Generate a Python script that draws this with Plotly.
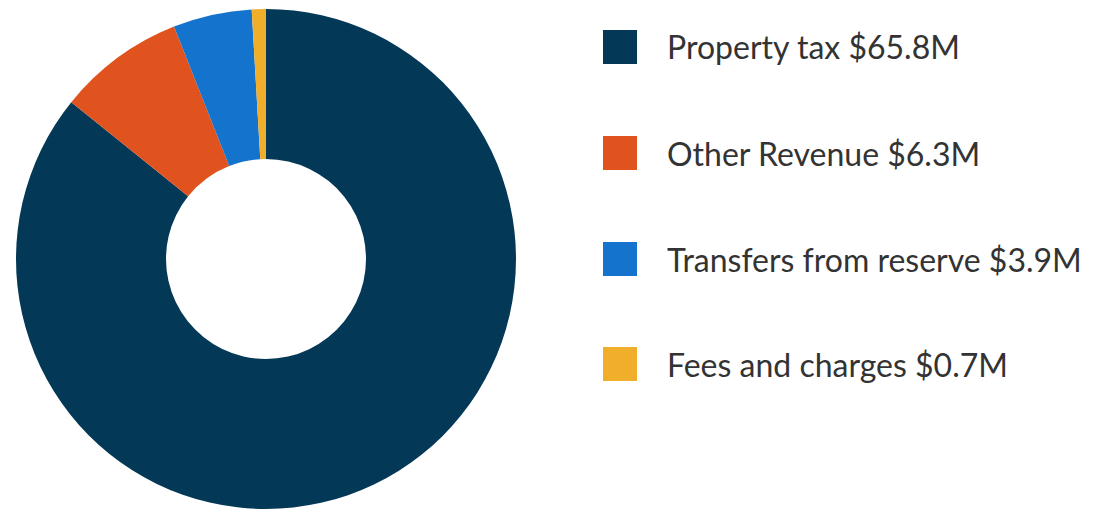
import plotly.graph_objects as go

categories = ["Property tax", "Other Revenue", "Transfers from reserve", "Fees and charges"]
values = [65.8, 6.3, 3.9, 0.7]
value_labels = ["$65.8M", "$6.3M", "$3.9M", "$0.7M"]
colors = ["#043857", "#E0531E", "#1473CC", "#F0AE2A"]

W, H = 1099, 509

fig = go.Figure(go.Pie(
    labels=categories,
    values=values,
    hole=0.4,
    sort=False,
    direction="clockwise",
    rotation=0,
    marker=dict(colors=colors, line=dict(width=0)),
    textinfo="none",
    hoverinfo="label+value",
    showlegend=False,
    domain=dict(x=[16 / W, 516 / W], y=[0, 1 - 9 / H]),
))

row_centers = [47, 153, 259, 364]
shapes = []
annotations = []
for cat, lab, col, yc in zip(categories, value_labels, colors, row_centers):
    shapes.append(dict(
        type="rect", xref="paper", yref="paper",
        x0=603 / W, x1=637 / W,
        y0=1 - (yc + 17) / H, y1=1 - (yc - 17) / H,
        fillcolor=col, line=dict(width=0),
    ))
    annotations.append(dict(
        xref="paper", yref="paper", x=665 / W, y=1 - yc / H,
        xanchor="left", yanchor="middle", showarrow=False,
        text=f"{cat} {lab}",
        font=dict(family="Lato, Open Sans, sans-serif", size=32, color="#333333"),
    ))

fig.update_layout(
    width=W, height=H,
    margin=dict(l=0, r=0, t=0, b=0),
    paper_bgcolor="white",
    plot_bgcolor="white",
    shapes=shapes,
    annotations=annotations,
)

fig.write_html(
    "out.html",
    config={"displayModeBar": False},
    post_script="document.body.style.margin='0';document.body.style.overflow='hidden';",
)
